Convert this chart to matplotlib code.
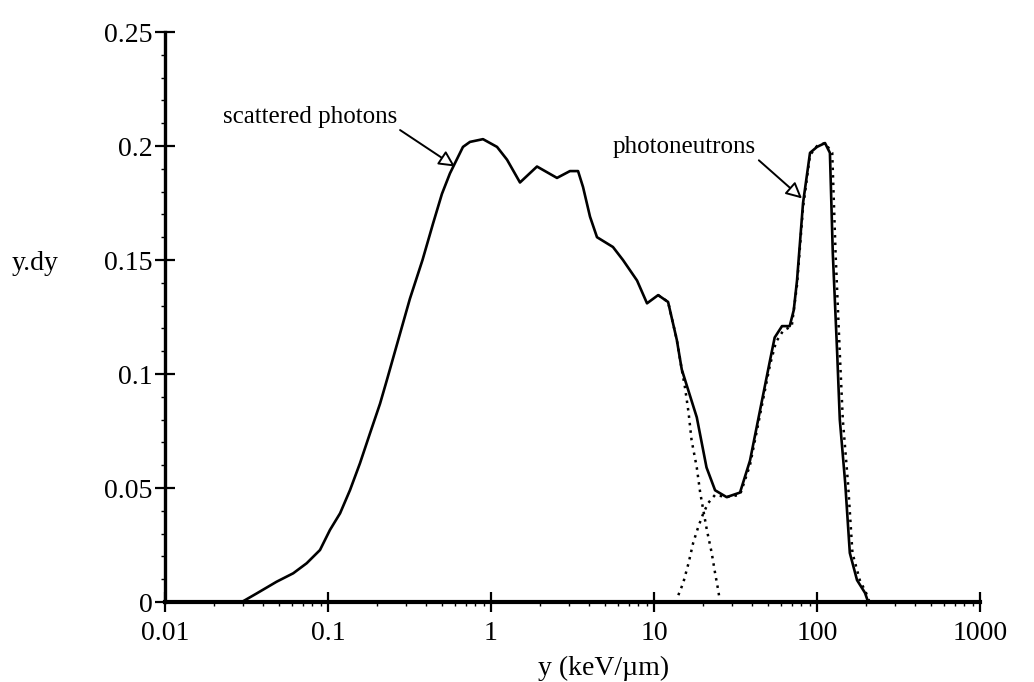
import matplotlib
matplotlib.use("Agg")
import matplotlib.pyplot as plt
from matplotlib.ticker import FixedLocator, LogLocator, NullFormatter

plt.rcParams['font.family'] = ['Liberation Serif', 'DejaVu Serif']

# total microdosimetric spectrum y.d(y)
y_total = [0.0296, 0.0366, 0.0484, 0.0612, 0.074, 0.0893, 0.1028, 0.1186, 0.1365,
           0.157, 0.181, 0.2086, 0.229, 0.265, 0.318, 0.38, 0.441, 0.50, 0.56,
           0.673, 0.743, 0.893, 1.089, 1.254, 1.506, 1.915, 2.54, 3.05, 3.42,
           3.67, 4.05, 4.47, 5.6, 6.45, 7.87, 9.06, 10.6, 12.2, 13.8, 14.8, 18.3,
           21.0, 23.7, 27.9, 33.7, 38.8, 44.7, 51.5, 55.0, 61.0, 68.0, 72.0, 75.4,
           82.1, 90.6, 100.0, 112.0, 120.0, 125.0, 133.0, 138.0, 149.0, 159.0,
           176.0, 197.0, 206.0]
yd_total = [0.0, 0.0038, 0.0089, 0.0126, 0.017, 0.0228, 0.0316, 0.0389, 0.0491,
            0.0608, 0.074, 0.087, 0.097, 0.113, 0.133, 0.150, 0.166, 0.179, 0.188,
            0.1996, 0.2018, 0.203, 0.1996, 0.194, 0.184, 0.191, 0.186, 0.189,
            0.189, 0.182, 0.169, 0.160, 0.1557, 0.150, 0.141, 0.131, 0.1346,
            0.1316, 0.115, 0.102, 0.081, 0.059, 0.049, 0.046, 0.048, 0.062, 0.084,
            0.106, 0.116, 0.121, 0.121, 0.128, 0.141, 0.175, 0.197, 0.1996, 0.2013,
            0.197, 0.153, 0.109, 0.080, 0.052, 0.0215, 0.0096, 0.004, 0.0]

# scattered photon component (tail only, rest lies under the total)
y_phot = [10.6, 12.2, 13.8, 14.8, 15.5, 16.3, 17.0, 18.3, 19.2, 20.1, 21.1, 22.6,
          23.7, 24.8, 25.4]
yd_phot = [0.1346, 0.1316, 0.115, 0.102, 0.094, 0.083, 0.071, 0.059, 0.048, 0.040,
           0.0316, 0.0215, 0.0127, 0.005, 0.0]

# photoneutron component
y_neut = [14.1, 15.1, 16.3, 17.4, 18.7, 20.1, 21.5, 23.7, 27.9, 33.7, 38.8, 44.7,
          51.5, 56.0, 62.0, 70.0, 75.4, 82.1, 90.6, 100.0, 112.0, 124.0, 130.0,
          138.0, 144.0, 155.0, 165.0, 183.0, 200.0, 210.0]
yd_neut = [0.003, 0.0083, 0.0171, 0.026, 0.033, 0.039, 0.0434, 0.047, 0.046, 0.047,
           0.060, 0.082, 0.104, 0.114, 0.119, 0.121, 0.139, 0.173, 0.196, 0.200,
           0.2013, 0.197, 0.153, 0.109, 0.080, 0.052, 0.0215, 0.0096, 0.004, 0.0]

x_ticks = [0.01, 0.1, 1, 10, 100, 1000]
x_labels = ['0.01', '0.1', '1', '10', '100', '1000']
y_ticks = [0, 0.05, 0.1, 0.15, 0.2, 0.25]
y_labels = ['0', '0.05', '0.1', '0.15', '0.2', '0.25']

fig = plt.figure(figsize=(10.34, 6.82), dpi=100)
ax = fig.add_axes([165 / 1034, 80 / 682, 815 / 1034, 570 / 682])

ax.plot(y_total, yd_total, color='black', lw=1.9, clip_on=False, zorder=3)
ax.plot(y_phot, yd_phot, color='black', lw=1.8, ls=(0, (1, 2)), clip_on=False)
ax.plot(y_neut, yd_neut, color='black', lw=1.8, ls=(0, (1, 2)), clip_on=False)

ax.set_xscale('log')
ax.set_xlim(0.01, 1000)
ax.set_ylim(0, 0.25)

ax.xaxis.set_major_locator(FixedLocator(x_ticks))
ax.set_xticklabels(x_labels)
ax.xaxis.set_minor_locator(LogLocator(base=10, subs=range(2, 10)))
ax.xaxis.set_minor_formatter(NullFormatter())
ax.set_yticks(y_ticks)
ax.set_yticklabels(y_labels)
ax.yaxis.set_minor_locator(FixedLocator([i / 100 for i in range(26)]))

for side in ['top', 'right']:
    ax.spines[side].set_visible(False)
ax.spines['left'].set_linewidth(2.4)
ax.spines['bottom'].set_linewidth(3.0)

ax.tick_params(axis='both', which='major', direction='inout', length=14, width=1.6,
               labelsize=20)
ax.tick_params(axis='x', which='major', pad=7)
ax.tick_params(axis='y', which='major', pad=2)
ax.tick_params(axis='both', which='minor', direction='out', length=3, width=1.0)

# component labels with open arrowheads
arrow = dict(arrowstyle='-|>', fc='white', ec='black', lw=1.4,
             mutation_scale=24, shrinkA=0, shrinkB=0, relpos=(1.0, 0.0))
ax.annotate('scattered photons', xy=(0.601, 0.191), xytext=(0.0227, 0.210),
            fontsize=18, ha='left', va='baseline', arrowprops=arrow)
ax.annotate('photoneutrons', xy=(80.9, 0.177), xytext=(5.6, 0.197),
            fontsize=18, ha='left', va='baseline', arrowprops=arrow)

fig.text(12 / 1034, 1 - 263 / 682, 'y.dy', fontsize=20, ha='left', va='center')
fig.text(604 / 1034, 1 - 668 / 682, 'y (keV/\u00b5m)', fontsize=20, ha='center',
         va='center')

fig.savefig('out.png', dpi=100)
